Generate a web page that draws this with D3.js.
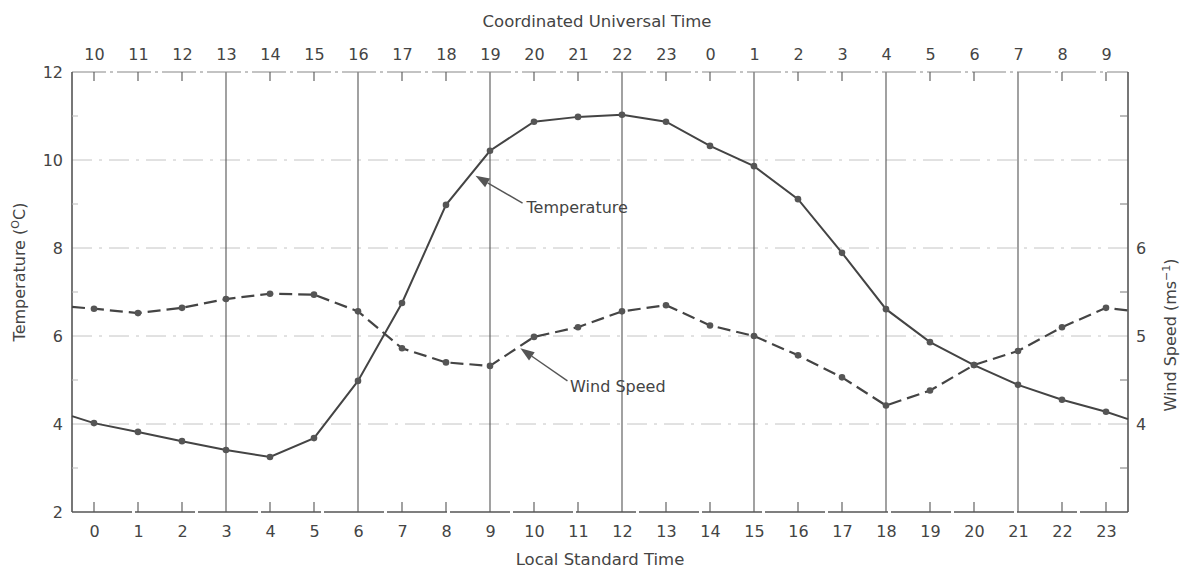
<!DOCTYPE html>
<html>
<head>
<meta charset="utf-8">
<script src="https://cdn.jsdelivr.net/npm/d3@7"></script>
<style>
  html, body { margin: 0; padding: 0; background: #fff; }
  svg { display: block; }
  text { font-family: "DejaVu Sans", "Liberation Sans", sans-serif; fill: #444; }
</style>
</head>
<body>
<svg id="chart" width="1184" height="572"></svg>
<script>
// ---------- data ----------
const localHours = d3.range(0, 24);                       // Local Standard Time
const utcLabels = ["10","11","12","13","14","15","16","17","18","19","20","21","22","23","0","1","2","3","4","5","6","7","8","9"];
const temperature = [4.02, 3.82, 3.61, 3.41, 3.25, 3.68, 4.98, 6.75, 8.98, 10.21, 10.87, 10.98,
                     11.03, 10.87, 10.32, 9.86, 9.11, 7.89, 6.61, 5.86, 5.34, 4.89, 4.55, 4.28];
const windSpeed   = [5.31, 5.26, 5.32, 5.42, 5.48, 5.47, 5.28, 4.86, 4.70, 4.66, 4.99, 5.10,
                     5.28, 5.35, 5.12, 5.00, 4.78, 4.53, 4.21, 4.38, 4.67, 4.83, 5.10, 5.32];
const temperatureEdges = [4.18, 4.11];   // line continues to the frame at both sides
const windEdges        = [5.33, 5.29];
const tempTicks  = [2, 4, 6, 8, 10, 12];
const tempMinor  = [3, 5, 7, 9, 11];
const windTicks  = [4, 5, 6];
const windMinor  = [3.5, 4.5, 5.5, 6.5, 7.5];
const gridHours  = [3, 6, 9, 12, 15, 18, 21];

// ---------- layout ----------
const L = 72, R = 1128, T = 72, B = 512;
const svg = d3.select("#chart");
const x  = d3.scaleLinear().domain([-0.5, 23.5]).range([L, R]);
const yT = d3.scaleLinear().domain([2, 12]).range([B, T]);
const yW = d3.scaleLinear().domain([3, 8]).range([B, T]);

const ink = "#444";

// horizontal dash-dot gridlines (faint)
svg.append("g").selectAll("line").data([4, 6, 8, 10]).join("line")
  .attr("x1", L).attr("x2", R).attr("y1", d => yT(d)).attr("y2", d => yT(d))
  .attr("stroke", "#c4c4c4").attr("stroke-width", 1).attr("stroke-dasharray", "20,7,3,7");

// vertical solid gridlines
svg.append("g").selectAll("line").data(gridHours).join("line")
  .attr("x1", d => x(d)).attr("x2", d => x(d)).attr("y1", T).attr("y2", B)
  .attr("stroke", "#555").attr("stroke-width", 1.1);

// frame
svg.append("line").attr("x1", L).attr("x2", R).attr("y1", T).attr("y2", T)
  .attr("stroke", "#888").attr("stroke-width", 1.2).attr("stroke-dasharray", "34,4,3,4");
svg.append("line").attr("x1", L).attr("x2", R).attr("y1", B).attr("y2", B)
  .attr("stroke", "#555").attr("stroke-width", 1.4).attr("stroke-dasharray", "60,3");
svg.append("line").attr("x1", L).attr("x2", L).attr("y1", T).attr("y2", B)
  .attr("stroke", "#555").attr("stroke-width", 1.6);
svg.append("line").attr("x1", R).attr("x2", R).attr("y1", T).attr("y2", B)
  .attr("stroke", "#555").attr("stroke-width", 1.6);

// axes (D3 axes, styled)
function styleAxis(g) {
  g.select(".domain").remove();
  g.selectAll(".tick line").attr("stroke", "#555").attr("stroke-width", 1.1);
  g.selectAll(".tick text").style("font-size", "16px").attr("fill", ink)
    .style("font-family", "DejaVu Sans, sans-serif");
}
const tickHours = localHours.filter(h => !gridHours.includes(h));

// bottom: local standard time
const bottomAxis = d3.axisBottom(x).tickValues(localHours).tickFormat(d => d).tickSize(0).tickPadding(14);
svg.append("g").attr("transform", `translate(0,${B})`).call(bottomAxis).call(styleAxis);
svg.append("g").selectAll("line").data(tickHours).join("line")
  .attr("x1", d => x(d)).attr("x2", d => x(d)).attr("y1", B).attr("y2", B - 10)
  .attr("stroke", "#555").attr("stroke-width", 1.1);

// top: UTC
const topAxis = d3.axisTop(x).tickValues(localHours).tickFormat((d, i) => utcLabels[i]).tickSize(0).tickPadding(12);
svg.append("g").attr("transform", `translate(0,${T})`).call(topAxis).call(styleAxis);
svg.append("g").selectAll("line").data(tickHours).join("line")
  .attr("x1", d => x(d)).attr("x2", d => x(d)).attr("y1", T).attr("y2", T + 9)
  .attr("stroke", "#555").attr("stroke-width", 1.1);

// left: temperature
const leftAxis = d3.axisLeft(yT).tickValues(tempTicks).tickFormat(d => d).tickSize(0).tickPadding(9);
svg.append("g").attr("transform", `translate(${L},0)`).call(leftAxis).call(styleAxis);
svg.append("g").selectAll("line").data(tempMinor).join("line")
  .attr("x1", L).attr("x2", L + 6).attr("y1", d => yT(d)).attr("y2", d => yT(d))
  .attr("stroke", "#bbb").attr("stroke-width", 1);

// right: wind speed
const rightAxis = d3.axisRight(yW).tickValues(windTicks).tickFormat(d => d).tickSize(0).tickPadding(8);
svg.append("g").attr("transform", `translate(${R},0)`).call(rightAxis).call(styleAxis);
svg.append("g").selectAll("line").data(windMinor).join("line")
  .attr("x1", R).attr("x2", R - 8).attr("y1", d => yW(d)).attr("y2", d => yW(d))
  .attr("stroke", "#777").attr("stroke-width", 1);

// ---------- series ----------
const tempPts = [[-0.5, temperatureEdges[0]], ...localHours.map((h, i) => [h, temperature[i]]), [23.5, temperatureEdges[1]]];
const windPts = [[-0.5, windEdges[0]], ...localHours.map((h, i) => [h, windSpeed[i]]), [23.5, windEdges[1]]];

svg.append("path").datum(tempPts)
  .attr("d", d3.line().x(d => x(d[0])).y(d => yT(d[1])))
  .attr("fill", "none").attr("stroke", ink).attr("stroke-width", 2);
svg.append("path").datum(windPts)
  .attr("d", d3.line().x(d => x(d[0])).y(d => yW(d[1])))
  .attr("fill", "none").attr("stroke", ink).attr("stroke-width", 2.2).attr("stroke-dasharray", "13,6");

svg.append("g").selectAll("circle").data(localHours).join("circle")
  .attr("cx", d => x(d)).attr("cy", (d, i) => yT(temperature[i])).attr("r", 3.3).attr("fill", "#555");
svg.append("g").selectAll("circle").data(localHours).join("circle")
  .attr("cx", d => x(d)).attr("cy", (d, i) => yW(windSpeed[i])).attr("r", 3.3).attr("fill", "#555");

// ---------- annotations ----------
function arrow(x1, y1, x2, y2) {
  const ang = Math.atan2(y2 - y1, x2 - x1);
  const len = 14, half = 5;
  const bx = x2 - len * Math.cos(ang), by = y2 - len * Math.sin(ang);
  svg.append("line").attr("x1", x1).attr("y1", y1).attr("x2", bx).attr("y2", by)
    .attr("stroke", "#555").attr("stroke-width", 1.4);
  const px = -Math.sin(ang) * half, py = Math.cos(ang) * half;
  svg.append("path")
    .attr("d", `M${x2},${y2}L${bx + px},${by + py}L${bx - px},${by - py}Z`)
    .attr("fill", "#555");
}
arrow(x(9.74), yT(9.02), x(8.67), yT(9.64));
svg.append("text").attr("x", x(9.83)).attr("y", yT(8.93)).attr("dy", "0.35em")
  .style("font-size", "16px").text("Temperature");

arrow(x(10.76), yW(4.49), x(9.69), yW(4.86));
svg.append("text").attr("x", x(10.82)).attr("y", yW(4.43)).attr("dy", "0.35em")
  .style("font-size", "16px").text("Wind Speed");

// ---------- axis titles ----------
svg.append("text").attr("x", 597).attr("y", 27).attr("text-anchor", "middle")
  .style("font-size", "16.5px").text("Coordinated Universal Time");
svg.append("text").attr("x", 600).attr("y", 565).attr("text-anchor", "middle")
  .style("font-size", "16.5px").text("Local Standard Time");

const lt = svg.append("text").attr("transform", "translate(25,272) rotate(-90)")
  .attr("text-anchor", "middle").style("font-size", "16px");
lt.append("tspan").text("Temperature (");
lt.append("tspan").attr("dy", "-6").style("font-size", "11px").text("O");
lt.append("tspan").attr("dy", "6").text("C)");

const rt = svg.append("text").attr("transform", "translate(1176,335) rotate(-90)")
  .attr("text-anchor", "middle").style("font-size", "16px");
rt.append("tspan").text("Wind Speed (ms");
rt.append("tspan").attr("dy", "-6").style("font-size", "11px").text("−1");
rt.append("tspan").attr("dy", "6").text(")");
</script>
</body>
</html>
